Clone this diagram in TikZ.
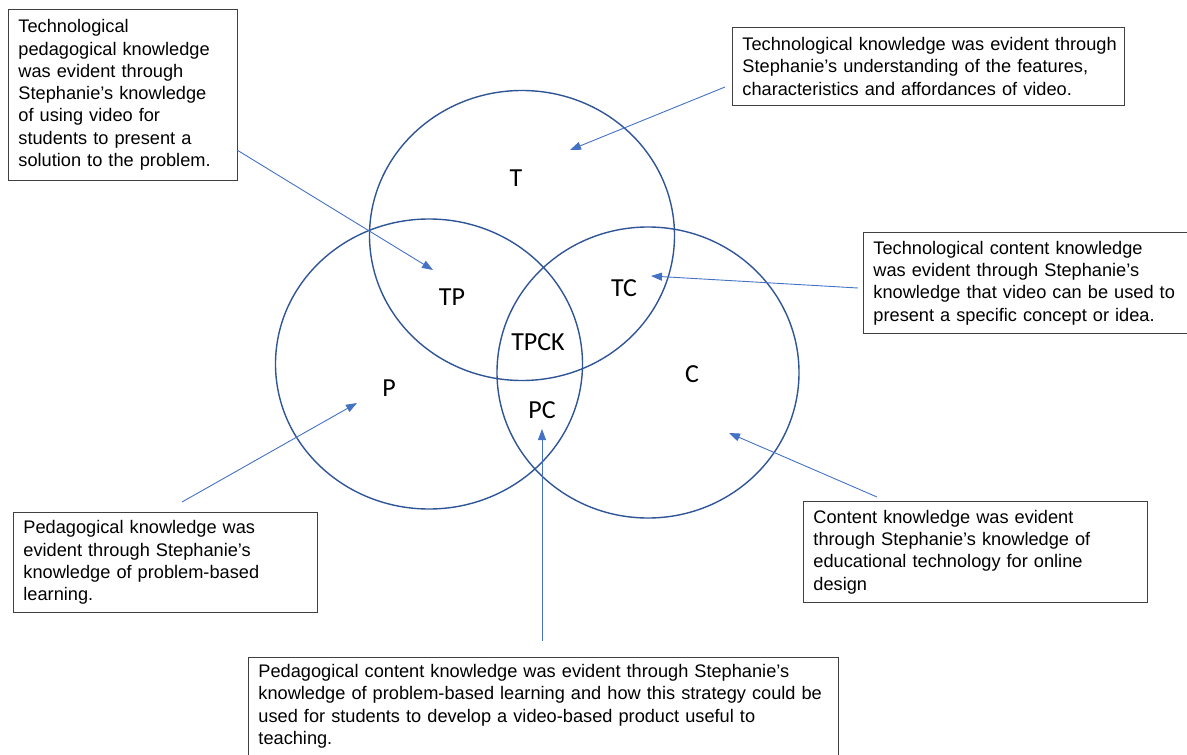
\documentclass[tikz,border=0pt]{standalone}
\usepackage{fontspec}
\setmainfont{Liberation Sans}
\newfontfamily\labelfont{Carlito}
\usetikzlibrary{arrows.meta}
\definecolor{ringblue}{HTML}{2F5597}
\definecolor{arrowblue}{HTML}{4472C4}
% one unbreakable line of a note
\newcommand{\noteline}[1]{\mbox{#1}}
\begin{document}
\begin{tikzpicture}[x=1pt,y=-1pt,
  ring/.style={draw=ringblue, line width=1.4pt},
  region/.style={font=\labelfont\fontsize{26}{30}\selectfont, inner sep=0pt},
  note/.style={draw=black!75, line width=0.9pt, align=left, anchor=north west,
    inner xsep=10pt, inner ysep=6pt, font=\fontsize{18.2}{22.3}\selectfont},
  pointer/.style={draw=arrowblue, line width=0.9pt, -{Triangle[length=11pt,width=8pt]}}
]
\useasboundingbox (0,0) rectangle (1187,755);

% the three knowledge domains
\draw[ring] (522,235.5) ellipse [x radius=152.5pt, y radius=145pt];
\draw[ring] (429,364) ellipse [x radius=153.5pt, y radius=145pt];
\draw[ring] (648,372.5) ellipse [x radius=151pt, y radius=145.5pt];

% region labels
\node[region] (t)    at (516,178) {T};
\node[region] (tp)   at (452,297) {TP};
\node[region] (tc)   at (624,288) {TC};
\node[region] (tpck) at (538,342) {TPCK};
\node[region] (p)    at (389,388) {P};
\node[region] (pc)   at (542,410) {PC};
\node[region] (c)    at (692,374) {C};

% explanatory notes
\node[note, text width=209pt, minimum height=171pt] (tpk) at (8,9)
  {\noteline{Technological}\\\noteline{pedagogical knowledge}\\\noteline{was evident through}\\\noteline{Stephanie’s knowledge}\\\noteline{of using video for}\\\noteline{students to present a}\\\noteline{solution to the problem.}};
\node[note, text width=372pt, minimum height=78pt] (tk) at (732,27)
  {\noteline{Technological knowledge was evident through}\\\noteline{Stephanie’s understanding of the features,}\\\noteline{characteristics and affordances of video.}};
\node[note, text width=315pt, minimum height=101pt] (tck) at (863,232)
  {\noteline{Technological content knowledge}\\\noteline{was evident through Stephanie’s}\\\noteline{knowledge that video can be used to}\\\noteline{present a specific concept or idea.}};
\node[note, text width=324pt, minimum height=101pt] (ck) at (803,501)
  {\noteline{Content knowledge was evident}\\\noteline{through Stephanie’s knowledge of}\\\noteline{educational technology for online}\\\noteline{design}};
\node[note, text width=284pt, minimum height=100pt] (pk) at (13,512)
  {\noteline{Pedagogical knowledge was}\\\noteline{evident through Stephanie’s}\\\noteline{knowledge of problem-based}\\\noteline{learning.}};
\node[note, text width=570pt, inner ysep=7pt, text depth=90pt] (pck) at (248,657)
  {\noteline{Pedagogical content knowledge was evident through Stephanie’s}\\\noteline{knowledge of problem-based learning and how this strategy could be}\\\noteline{used for students to develop a video-based product useful to}\\\noteline{teaching.}};

% pointer ends
\coordinate (tpk-from) at (237,150);  \coordinate (tpk-to) at (433,270);
\coordinate (tk-from)  at (725,87);   \coordinate (tk-to)  at (570,150);
\coordinate (tck-from) at (858,288);  \coordinate (tck-to) at (651,276);
\coordinate (ck-from)  at (877,497);  \coordinate (ck-to)  at (729,433);
\coordinate (pk-from)  at (182,502);  \coordinate (pk-to)  at (357,403);
\coordinate (pck-from) at (542,641);  \coordinate (pck-to) at (542,429);

\draw[pointer] (tpk-from) -- (tpk-to);
\draw[pointer] (tk-from) -- (tk-to);
\draw[pointer] (tck-from) -- (tck-to);
\draw[pointer] (ck-from) -- (ck-to);
\draw[pointer] (pk-from) -- (pk-to);
\draw[pointer] (pck-from) -- (pck-to);
\end{tikzpicture}
\end{document}
